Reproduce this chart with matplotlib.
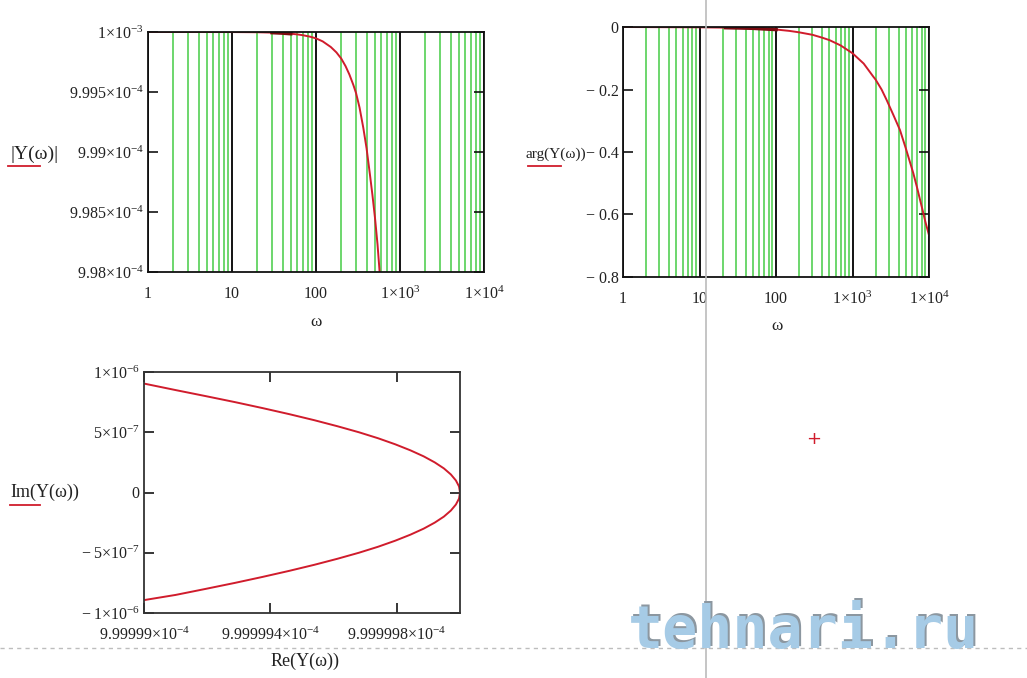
import numpy as np
import matplotlib
matplotlib.use("Agg")
from matplotlib import pyplot as plt
from matplotlib.lines import Line2D
from matplotlib.ticker import FixedLocator, FixedFormatter, LogLocator, NullFormatter

plt.rcParams['font.family'] = ['Liberation Serif', 'DejaVu Serif']
plt.rcParams['mathtext.fontset'] = 'custom'
plt.rcParams['mathtext.rm'] = 'Liberation Serif'
plt.rcParams['mathtext.it'] = 'Liberation Serif:italic'
plt.rcParams['mathtext.bf'] = 'Liberation Serif:bold'

# |Y(w)| (drop below 1e-3, in units of 1e-6)
w_mag = [1, 10, 20, 30, 40, 50, 60, 70, 85, 100, 120, 150, 175, 200, 225, 250,
         278, 300, 330, 366, 400, 439, 470, 504, 540, 568, 600]
mag_drop = [0.0, 0.0005, 0.002, 0.005, 0.009, 0.014, 0.020, 0.027, 0.039, 0.053,
            0.078, 0.125, 0.170, 0.222, 0.285, 0.355, 0.44, 0.51, 0.63, 0.80,
            0.97, 1.19, 1.36, 1.55, 1.77, 1.97, 2.2]

# arg(Y(w))
w_ph = [1, 10, 22, 50, 100, 150, 200, 300, 400, 500, 700, 1000, 1400, 1872, 2000,
        2400, 2800, 3400, 4178, 5000, 6237, 7000, 8433, 9000, 10000]
arg_y = [0.0, -0.001, -0.002, -0.004, -0.008, -0.0125, -0.017, -0.025, -0.034,
         -0.042, -0.059, -0.084, -0.117, -0.159, -0.168, -0.20, -0.234, -0.28,
         -0.33, -0.39, -0.468, -0.515, -0.596, -0.625, -0.666]

# Nyquist curve: Im in units of 1e-6, Re as drop below 1e-3 in units of 1e-10
im_y = [0.904, 0.85, 0.80, 0.75, 0.70, 0.65, 0.60, 0.55, 0.50, 0.45, 0.40, 0.35,
        0.30, 0.25, 0.20, 0.15, 0.10, 0.05, 0.0, -0.05, -0.10, -0.15, -0.20,
        -0.25, -0.30, -0.35, -0.40, -0.45, -0.50, -0.55, -0.60, -0.65, -0.70,
        -0.75, -0.80, -0.85, -0.893]
re_drop = [10.0, 9.0, 8.05, 7.12, 6.24, 5.40, 4.61, 3.88, 3.20, 2.59, 2.05, 1.57,
           1.15, 0.80, 0.51, 0.29, 0.13, 0.03, 0.0, 0.03, 0.13, 0.29, 0.51,
           0.80, 1.15, 1.57, 2.05, 2.59, 3.20, 3.88, 4.61, 5.40, 6.24,
           7.12, 8.05, 9.0, 10.0]

w_ticks = [1, 10, 100, 1000, 10000]
w_labels = ['1', '10', '100', r'$1{\times}10^{3}$', r'$1{\times}10^{4}$']
mag_ticks = [9.98e-4, 9.985e-4, 9.99e-4, 9.995e-4, 1e-3]
mag_labels = [r'$9.98{\times}10^{-4}$', r'$9.985{\times}10^{-4}$', r'$9.99{\times}10^{-4}$',
              r'$9.995{\times}10^{-4}$', r'$1{\times}10^{-3}$']
arg_ticks = [-0.8, -0.6, -0.4, -0.2, 0]
arg_labels = ['\u2212 0.8', '\u2212 0.6', '\u2212 0.4', '\u2212 0.2', '0']
im_ticks = [-1e-6, -5e-7, 0, 5e-7, 1e-6]
im_labels = [r'$-\;1{\times}10^{-6}$', r'$-\;5{\times}10^{-7}$', '0',
             r'$5{\times}10^{-7}$', r'$1{\times}10^{-6}$']
re_ticks = [9.99999e-4, 9.999994e-4, 9.999998e-4]
re_labels = [r'$9.99999{\times}10^{-4}$', r'$9.999994{\times}10^{-4}$',
             r'$9.999998{\times}10^{-4}$']

W, H = 1027, 678
RED = '#d01c2c'
DARKRED = '#7a0a10'
GREEN = '#45cc45'
TXT = '#222222'
FS = 11.5

fig = plt.figure(figsize=(W / 100, H / 100), dpi=100)


def px_axes(left, top, right, bottom):
    return fig.add_axes([left / W, 1 - bottom / H, (right - left) / W, (bottom - top) / H])


def style(ax):
    for s in ax.spines.values():
        s.set_color('#111111')
        s.set_linewidth(1.3)
    ax.tick_params(axis='y', direction='in', length=7, left=True, right=True,
                   labelsize=FS, labelcolor=TXT, pad=3, width=1.1)


def log_axes(ax):
    ax.set_xscale('log')
    ax.set_xlim(1, 1e4)
    ax.xaxis.set_major_locator(FixedLocator(w_ticks))
    ax.xaxis.set_major_formatter(FixedFormatter(w_labels))
    ax.xaxis.set_minor_locator(LogLocator(base=10, subs=np.arange(2, 10)))
    ax.xaxis.set_minor_formatter(NullFormatter())
    ax.grid(which='minor', axis='x', color=GREEN, linewidth=1.1)
    ax.grid(which='major', axis='x', color='black', linewidth=1.3)
    ax.tick_params(axis='x', which='both', length=0, labelsize=FS,
                   labelcolor=TXT, pad=10)
    ax.set_axisbelow(True)


# magnitude
ax1 = px_axes(148, 32, 484, 272)
style(ax1)
log_axes(ax1)
mag = 1e-3 - np.array(mag_drop) * 1e-6
ax1.plot(w_mag, mag, color=RED, linewidth=1.4)
ax1.plot(w_mag[3:6], mag[3:6], color=DARKRED, linewidth=2.6)
ax1.set_ylim(9.98e-4, 1e-3)
ax1.yaxis.set_major_locator(FixedLocator(mag_ticks))
ax1.yaxis.set_major_formatter(FixedFormatter(mag_labels))

# phase
ax2 = px_axes(623, 27, 929, 277)
style(ax2)
log_axes(ax2)
ax2.plot(w_ph, arg_y, color=RED, linewidth=1.4)
ax2.plot(w_ph[2:5], arg_y[2:5], color=DARKRED, linewidth=2.6)
ax2.set_ylim(-0.8, 0)
ax2.yaxis.set_major_locator(FixedLocator(arg_ticks))
ax2.yaxis.set_major_formatter(FixedFormatter(arg_labels))

# Nyquist
ax3 = px_axes(144, 372, 460, 613)
style(ax3)
for s in ax3.spines.values():
    s.set_color('#333333')
re_y = 1e-3 - np.array(re_drop) * 1e-10
ax3.plot(re_y, np.array(im_y) * 1e-6, color=RED, linewidth=1.4)
ax3.set_xlim(9.99999e-4, 1e-3)
ax3.set_ylim(-1e-6, 1e-6)
ax3.xaxis.set_major_locator(FixedLocator(re_ticks))
ax3.xaxis.set_major_formatter(FixedFormatter(re_labels))
ax3.yaxis.set_major_locator(FixedLocator(im_ticks))
ax3.yaxis.set_major_formatter(FixedFormatter(im_labels))
ax3.tick_params(axis='x', direction='in', length=7, top=True, bottom=True,
                labelsize=FS, labelcolor=TXT, pad=10, width=1.1)


# axis labels, Mathcad style
def ftext(x, y, s, size=12.5, **kw):
    fig.text(x / W, 1 - y / H, s, color=TXT, fontsize=size, **kw)


def trace_mark(x0, x1, y):
    fig.add_artist(Line2D([x0 / W, x1 / W], [1 - y / H, 1 - y / H],
                          transform=fig.transFigure, color=RED, linewidth=1.3))


ftext(10, 154, '|Y(\u03c9)|', size=14, ha='left', va='center')
trace_mark(8, 40, 166)
ftext(316, 322, '\u03c9', ha='center', va='center')
ftext(526, 154, 'arg(Y(\u03c9))', size=11, ha='left', va='center')
trace_mark(528, 561, 166)
ftext(777, 326, '\u03c9', ha='center', va='center')
ftext(10, 492, 'Im(Y(\u03c9))', size=13, ha='left', va='center')
trace_mark(10, 40, 505)
ftext(305, 661, 'Re(Y(\u03c9))', size=13, ha='center', va='center')

# page decorations of the screenshot
fig.add_artist(Line2D([706 / W, 706 / W], [0, 1], transform=fig.transFigure,
                      color='#bbbbbb', linewidth=1.2))
fig.add_artist(Line2D([0, 1], [1 - 648 / H, 1 - 648 / H], transform=fig.transFigure,
                      color='#bdbdbd', linewidth=1.0, linestyle=(0, (3, 3))))
fig.text(814 / W, 1 - 439 / H, '+', color=RED, fontsize=13, ha='center', va='center',
         family='DejaVu Sans')
fig.text(630 / W, 1 - 646 / H, 'tehnari.ru', color='#8c97a0', fontsize=42,
         family='DejaVu Sans Mono', weight='bold', ha='left', va='baseline')
fig.text(628 / W, 1 - 648 / H, 'tehnari.ru', color='#a6cbe6', fontsize=42,
         family='DejaVu Sans Mono', weight='bold', ha='left', va='baseline')

fig.savefig('out.png', dpi=100, facecolor='white')
